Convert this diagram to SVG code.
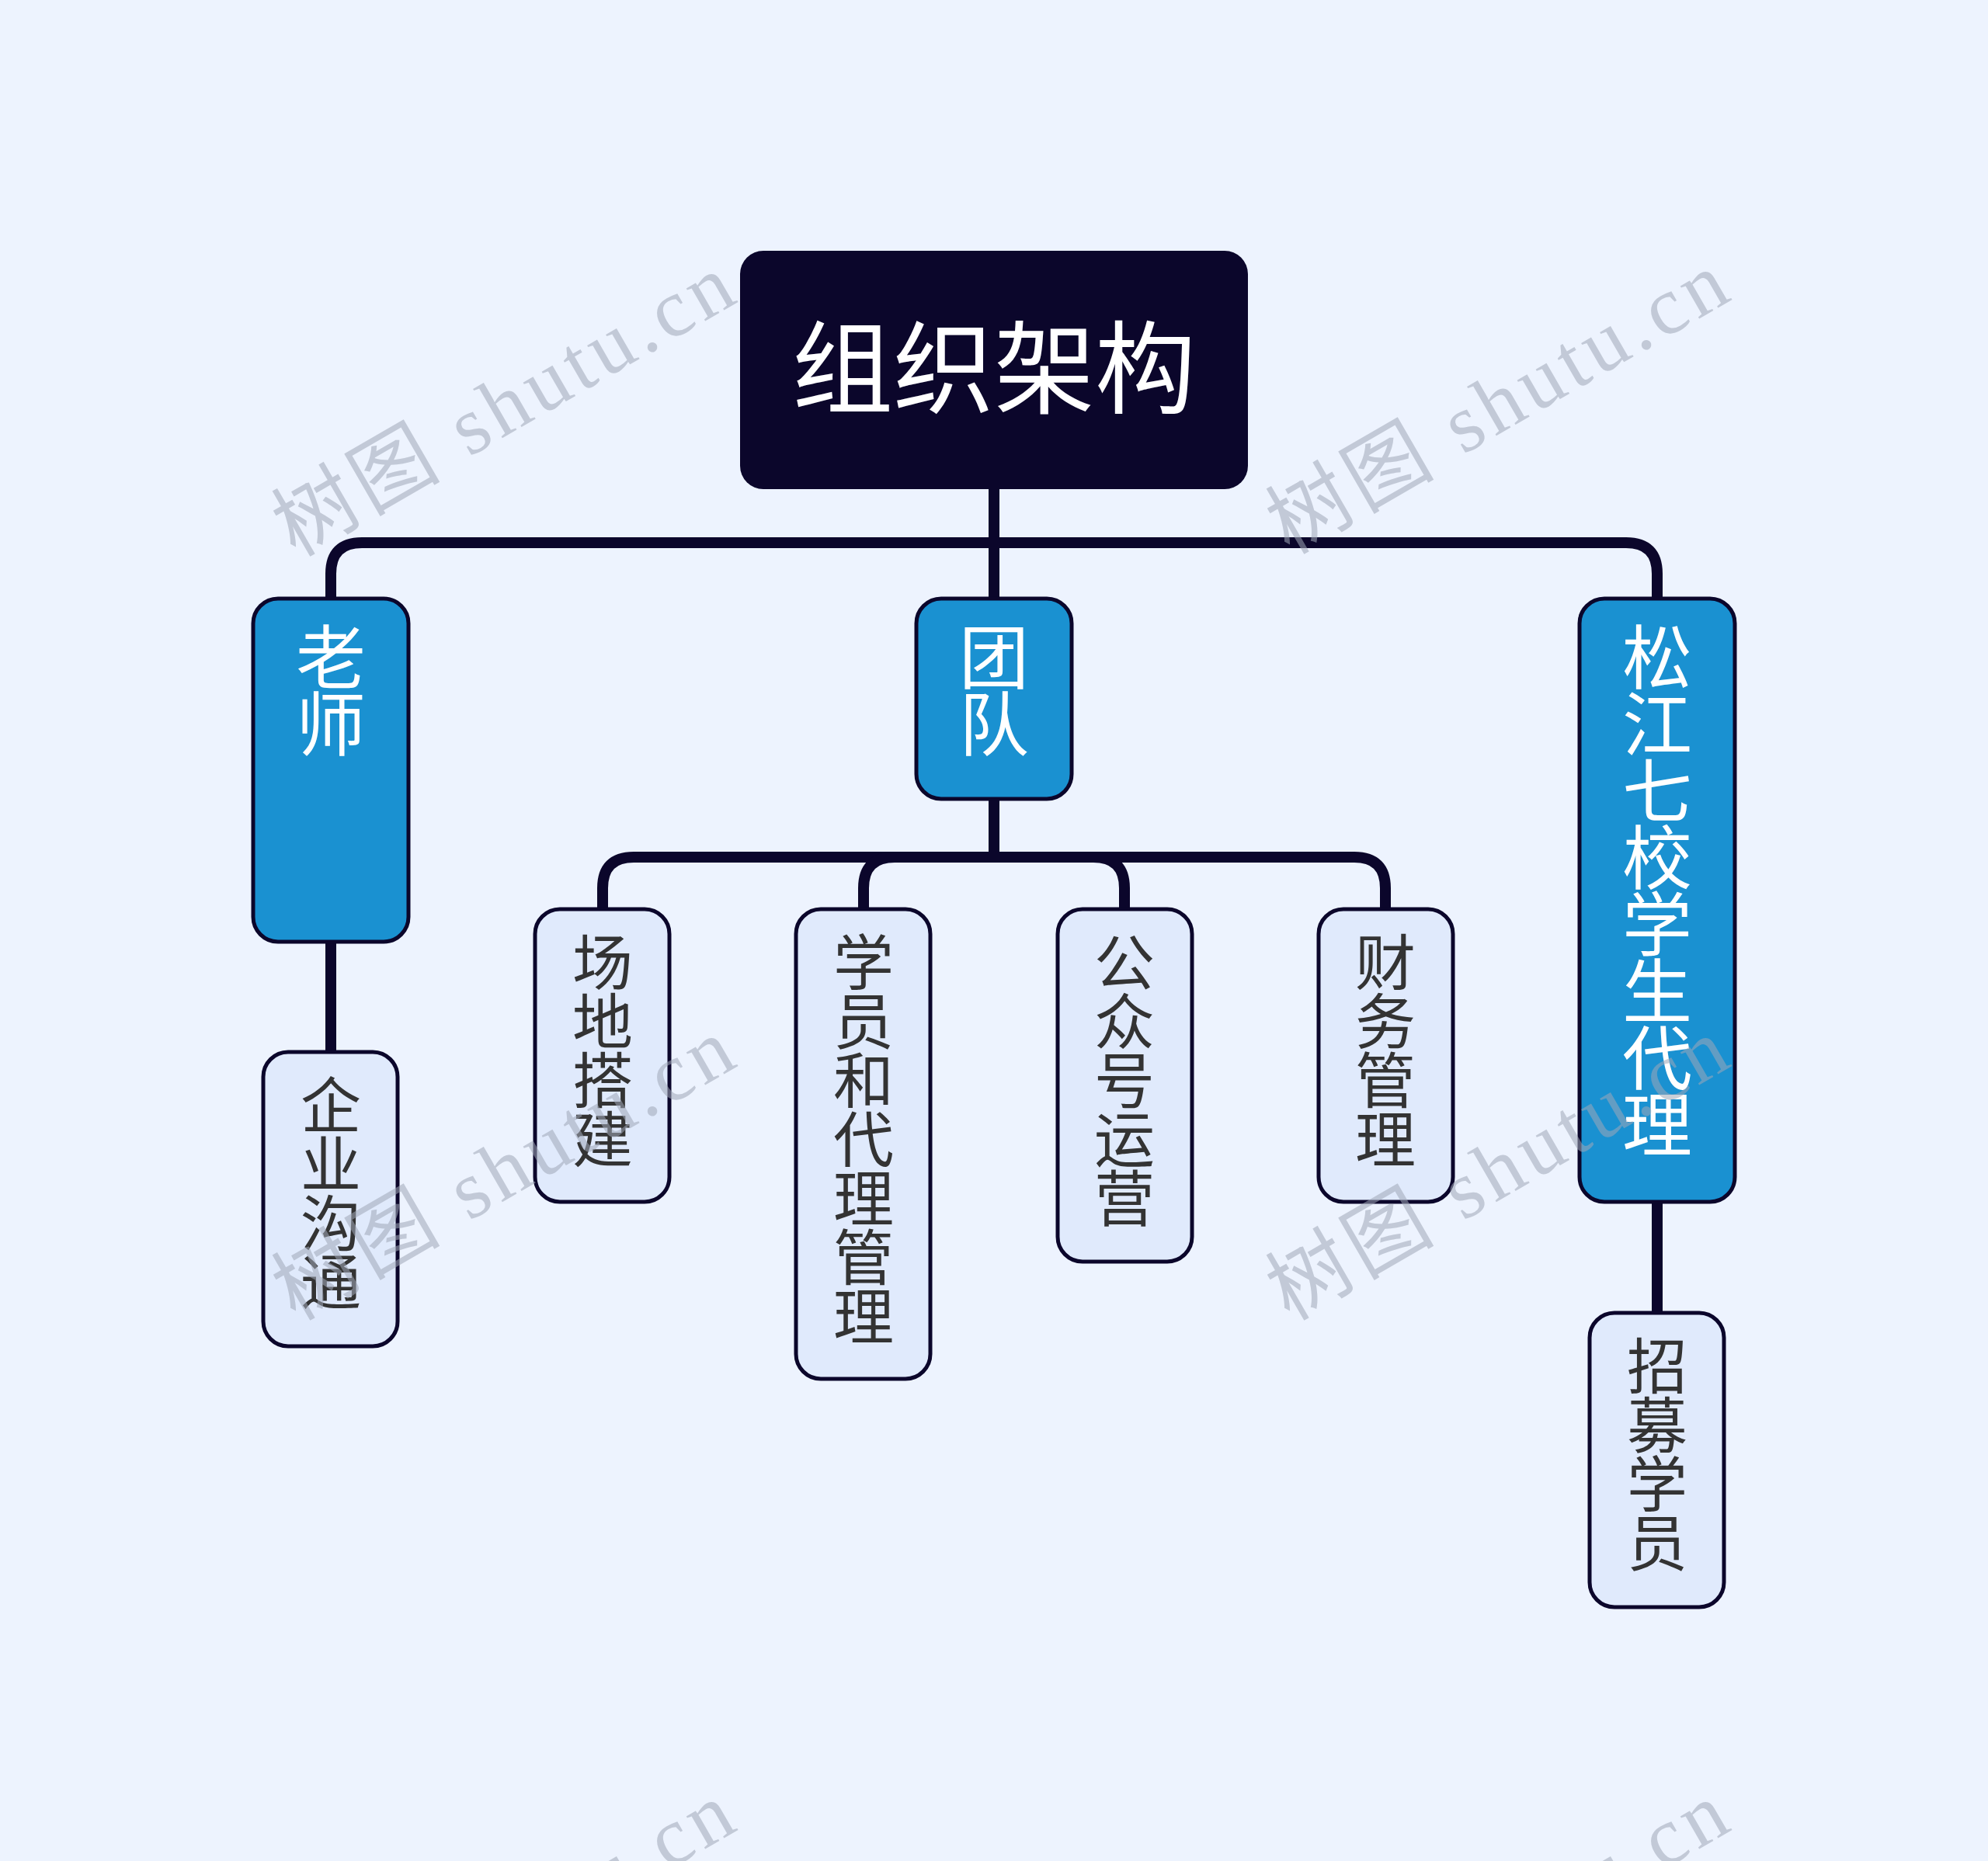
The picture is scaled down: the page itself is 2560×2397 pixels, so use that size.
<svg xmlns="http://www.w3.org/2000/svg" width="2560" height="2397" viewBox="0 0 2560 2397">
<style>
.bg{fill:#edf3fe}
.conn{fill:none;stroke:#0b062b;stroke-width:14;stroke-linecap:butt}
.root{fill:#0b062b}
.l1{fill:#1a91d1;stroke:#0b062b;stroke-width:5}
.l2{fill:#e0eafc;stroke:#0b062b;stroke-width:5}
.t0{font-family:"Noto Sans CJK SC","Noto Sans",sans-serif;font-size:130px;fill:#ffffff;text-anchor:middle}
.t1{font-family:"Noto Sans CJK SC","Noto Sans",sans-serif;font-size:90px;fill:#ffffff;text-anchor:middle}
.t2{font-family:"Noto Sans CJK SC","Noto Sans",sans-serif;font-size:78px;fill:#333333;text-anchor:middle}
.wm{font-family:"Liberation Serif","Noto Sans CJK SC",serif;font-size:106px;fill:#a0a8b8;opacity:0.55}
</style>
<rect class="bg" x="0" y="0" width="2560" height="2397"/>
<g id="connectors">
<path class="conn" d="M1280,630 V771"/>
<path class="conn" d="M1280,699 H466 Q426,699 426,739 V771"/>
<path class="conn" d="M1280,699 H2094 Q2134,699 2134,739 V771"/>
<path class="conn" d="M426,1213 V1355"/>
<path class="conn" d="M2134,1548 V1691"/>
<path class="conn" d="M1280,1029 V1104"/>
<path class="conn" d="M1280,1104 H816 Q776,1104 776,1144 V1171"/>
<path class="conn" d="M1280,1104 H1152 Q1112,1104 1112,1144 V1171"/>
<path class="conn" d="M1280,1104 H1408 Q1448,1104 1448,1144 V1171"/>
<path class="conn" d="M1280,1104 H1744 Q1784,1104 1784,1144 V1171"/>
</g>
<g id="node-root">
<rect class="root" x="953" y="323" width="654" height="307" rx="30"/>
<text class="t0" x="1280" y="522">组织架构</text>
</g>
<g id="node-laoshi">
<rect class="l1" x="326" y="771" width="200" height="442" rx="32"/>
<text class="t1" x="426" y="880"><tspan x="426">老</tspan><tspan x="426" dy="86">师</tspan></text>
</g>
<g id="node-tuandui">
<rect class="l1" x="1180" y="771" width="200" height="258" rx="32"/>
<text class="t1" x="1280" y="880"><tspan x="1280">团</tspan><tspan x="1280" dy="86">队</tspan></text>
</g>
<g id="node-songjiang">
<rect class="l1" x="2034" y="771" width="200" height="777" rx="32"/>
<text class="t1" x="2134" y="880"><tspan x="2134">松</tspan><tspan x="2134" dy="86">江</tspan><tspan x="2134" dy="86">七</tspan><tspan x="2134" dy="86">校</tspan><tspan x="2134" dy="86">学</tspan><tspan x="2134" dy="86">生</tspan><tspan x="2134" dy="86">代</tspan><tspan x="2134" dy="86">理</tspan></text>
</g>
<g id="node-qiye">
<rect class="l2" x="339" y="1355" width="173" height="379" rx="32"/>
<text class="t2" x="426" y="1453"><tspan x="426">企</tspan><tspan x="426" dy="76">业</tspan><tspan x="426" dy="76">沟</tspan><tspan x="426" dy="76">通</tspan></text>
</g>
<g id="node-changdi">
<rect class="l2" x="689" y="1171" width="173" height="377" rx="32"/>
<text class="t2" x="776" y="1269"><tspan x="776">场</tspan><tspan x="776" dy="76">地</tspan><tspan x="776" dy="76">搭</tspan><tspan x="776" dy="76">建</tspan></text>
</g>
<g id="node-xueyuan">
<rect class="l2" x="1025" y="1171" width="173" height="605" rx="32"/>
<text class="t2" x="1112" y="1269"><tspan x="1112">学</tspan><tspan x="1112" dy="76">员</tspan><tspan x="1112" dy="76">和</tspan><tspan x="1112" dy="76">代</tspan><tspan x="1112" dy="76">理</tspan><tspan x="1112" dy="76">管</tspan><tspan x="1112" dy="76">理</tspan></text>
</g>
<g id="node-gongzhonghao">
<rect class="l2" x="1362" y="1171" width="173" height="454" rx="32"/>
<text class="t2" x="1448" y="1269"><tspan x="1448">公</tspan><tspan x="1448" dy="76">众</tspan><tspan x="1448" dy="76">号</tspan><tspan x="1448" dy="76">运</tspan><tspan x="1448" dy="76">营</tspan></text>
</g>
<g id="node-caiwu">
<rect class="l2" x="1698" y="1171" width="173" height="377" rx="32"/>
<text class="t2" x="1784" y="1269"><tspan x="1784">财</tspan><tspan x="1784" dy="76">务</tspan><tspan x="1784" dy="76">管</tspan><tspan x="1784" dy="76">理</tspan></text>
</g>
<g id="node-zhaomu">
<rect class="l2" x="2047" y="1691" width="173" height="379" rx="32"/>
<text class="t2" x="2134" y="1789"><tspan x="2134">招</tspan><tspan x="2134" dy="76">募</tspan><tspan x="2134" dy="76">学</tspan><tspan x="2134" dy="76">员</tspan></text>
</g>
<g id="watermarks">
<text class="wm" transform="translate(648,522) rotate(-30)" x="-330" y="36" textLength="660">树图 shutu.cn</text>
<text class="wm" transform="translate(1928,519) rotate(-30)" x="-330" y="36" textLength="660">树图 shutu.cn</text>
<text class="wm" transform="translate(648,1506) rotate(-30)" x="-330" y="36" textLength="660">树图 shutu.cn</text>
<text class="wm" transform="translate(1928,1506) rotate(-30)" x="-330" y="36" textLength="660">树图 shutu.cn</text>
<text class="wm" transform="translate(648,2490) rotate(-30)" x="-330" y="36" textLength="660">树图 shutu.cn</text>
<text class="wm" transform="translate(1928,2490) rotate(-30)" x="-330" y="36" textLength="660">树图 shutu.cn</text>
</g>
</svg>
